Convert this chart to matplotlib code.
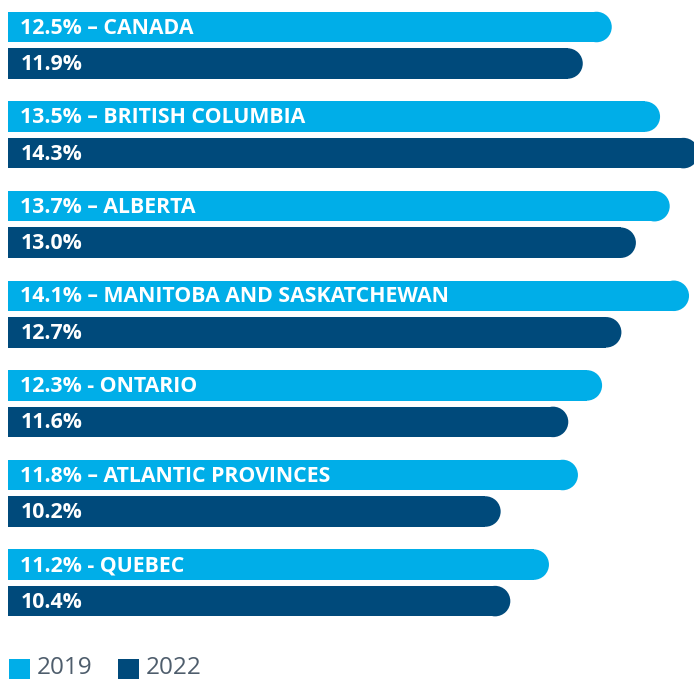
import matplotlib
matplotlib.use("Agg")
import matplotlib.pyplot as plt
from matplotlib.patches import Ellipse, Rectangle

regions = ["CANADA", "BRITISH COLUMBIA", "ALBERTA", "MANITOBA AND SASKATCHEWAN",
           "ONTARIO", "ATLANTIC PROVINCES", "QUEBEC"]
separators = ["–", "–", "–", "–", "-", "–", "-"]
values_2019 = [12.5, 13.5, 13.7, 14.1, 12.3, 11.8, 11.2]
values_2022 = [11.9, 14.3, 13.0, 12.7, 11.6, 10.2, 10.4]
years = ["2019", "2022"]

C19 = "#00AEE8"
C22 = "#004A7B"
LEG_TXT = "#4E5D6C"

W, H, DPI = 694, 679, 100
fig = plt.figure(figsize=(W / DPI, H / DPI), dpi=DPI)
left_px = 8
ax = fig.add_axes([left_px / W, 0, (W - left_px) / W, 1])
px_per_unit = 48.3
ax.set_xlim(0, (W - left_px) / px_per_unit)
ax.set_ylim(H, 0)
ax.axis("off")

bar_h = 30.5
first_c = 27
pair_gap = 36.5
group_step = 89.6
rx = (bar_h / 2) / px_per_unit

def rounded_bar(y, v, color):
    ax.add_patch(Rectangle((0, y - bar_h / 2), v - rx, bar_h, facecolor=color,
                           edgecolor="none"))
    ax.add_patch(Ellipse((v - rx, y), 2 * rx, bar_h, facecolor=color,
                         edgecolor="none"))

label_x = 12.5 / px_per_unit
bold_font = ["Open Sans", "Lato", "DejaVu Sans"]
font = ["Open Sans", "Noto Sans", "DejaVu Sans"]
for i, (r, s, a, b) in enumerate(zip(regions, separators, values_2019, values_2022)):
    y1 = first_c + i * group_step
    y2 = y1 + pair_gap
    rounded_bar(y1, a, C19)
    rounded_bar(y2, b, C22)
    ax.text(label_x, y1 + 1, f"{a:.1f}% {s} {r}", color="white", fontsize=15.3,
            fontweight="bold", family=bold_font, va="center")
    ax.text(label_x, y2 + 1, f"{b:.1f}%", color="white", fontsize=15.3,
            fontweight="bold", family=bold_font, va="center")

# legend
for x0, col, lab in [(9, C19, years[0]), (118, C22, years[1])]:
    fig.patches.append(Rectangle((x0 / W, 0), 21 / W, 20 / H, facecolor=col,
                                 edgecolor="none", transform=fig.transFigure))
    fig.text((x0 + 28) / W, -1 / H, lab, color=LEG_TXT, fontsize=17.5,
             family=font, va="bottom")

fig.savefig("out.png", dpi=DPI)
